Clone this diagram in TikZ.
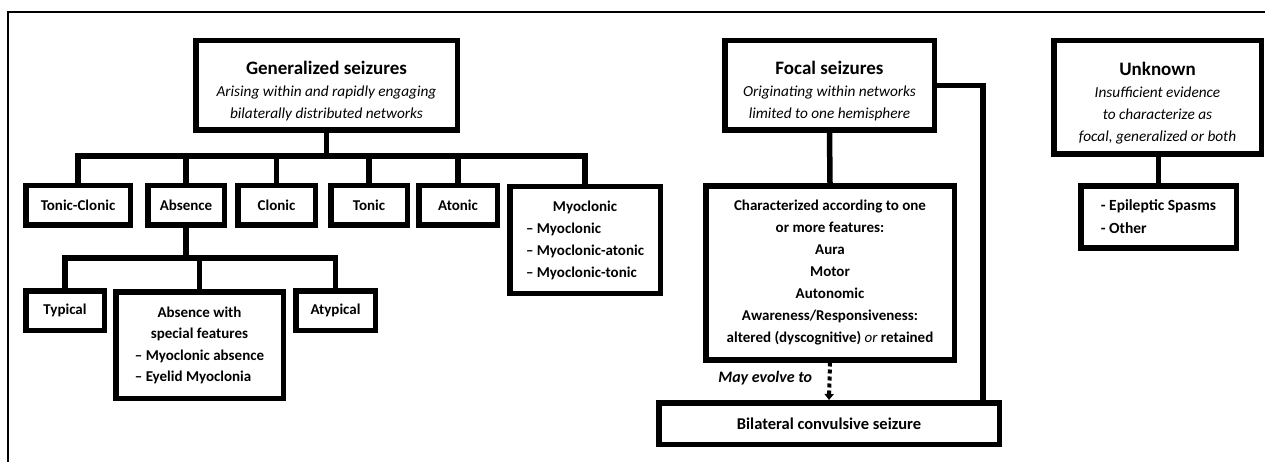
\documentclass[tikz,border=0pt]{standalone}
\usepackage{fontspec}
\setmainfont{Carlito}
\usetikzlibrary{arrows.meta}

\tikzset{
  box/.style={draw, line width=5.5pt, inner sep=0pt, align=center,
    font=\bfseries\fontsize{15}{22}\selectfont},
  conn/.style={line width=5.5pt},
  evolve/.style={line width=4pt, dash pattern=on 4pt off 3pt,
    -{Triangle[length=6pt,width=9pt]}},
  frameline/.style={line width=1.5pt},
  subt/.style={font=\bfseries\itshape\fontsize{16}{23}\selectfont},
}
% heading line; the strut lowers the whole text block a little
\newcommand{\headline}[1]{{\fontsize{19}{23}\selectfont\rule{0pt}{24pt}#1}}
\newcommand{\subline}[1]{{\mdseries\itshape\fontsize{15.3}{23}\selectfont #1}}
\newcommand{\unkline}[1]{{\mdseries\itshape\fontsize{15.3}{22}\selectfont #1}}

\begin{document}
\begin{tikzpicture}[x=1pt,y=-1pt]
\useasboundingbox (0,0) rectangle (1265,462);
\fill[white] (0,0) rectangle (1265,462);

% page frame
\draw[frameline] (8,462) -- (8,12) -- (1265,12);

% top-level categories
\node[box, minimum width=261.5pt, minimum height=89.5pt] (gen) at (326.5,85.5)
  {\headline{Generalized seizures}\\
   \subline{Arising within and rapidly engaging}\\
   \subline{bilaterally distributed networks}};
\node[box, minimum width=209.5pt, minimum height=89.5pt] (focal) at (829.5,85.5)
  {\headline{Focal seizures}\\
   \subline{Originating within networks}\\
   \subline{limited to one hemisphere}};
\node[box, minimum width=207.5pt, minimum height=113.5pt] (unk) at (1157.5,97.5)
  {\headline{Unknown}\\
   \unkline{Insufficient evidence}\\
   \unkline{to characterize as}\\
   \unkline{focal, generalized or both}};

% generalized seizure types
\node[box, minimum width=104.5pt, minimum height=39.5pt] (tc) at (78,205.5) {Tonic-Clonic};
\node[box, minimum width=76.5pt, minimum height=39.5pt] (abs) at (186,205.5) {Absence};
\node[box, minimum width=77.5pt, minimum height=39.5pt] (clon) at (276.5,205.5) {Clonic};
\node[box, minimum width=76.5pt, minimum height=39.5pt] (tonic) at (369,205.5) {Tonic};
\node[box, minimum width=78.5pt, minimum height=39.5pt] (atonic) at (458,205.5) {Atonic};
\node[box, minimum width=150.5pt, minimum height=106.5pt] (myo) at (585,240)
  {\begin{tabular}{@{}l@{}}
   \multicolumn{1}{@{}c@{}}{Myoclonic}\\
   – Myoclonic\\
   – Myoclonic-atonic\\
   – Myoclonic-tonic
   \end{tabular}};

% absence subtypes
\node[box, minimum width=78.5pt, minimum height=39.5pt] (typ) at (65,310.5) {Typical};
\node[box, minimum width=167.5pt, minimum height=106.5pt] (asf) at (199.5,345)
  {\fontsize{15}{21.5}\selectfont\begin{tabular}{@{}l@{}}
   \multicolumn{1}{@{}c@{}}{Absence with}\\
   \multicolumn{1}{@{}c@{}}{special features}\\
   – Myoclonic absence\\
   – Eyelid Myoclonia
   \end{tabular}};
\node[box, minimum width=79.5pt, minimum height=39.5pt] (atyp) at (335.5,310.5) {Atypical};

% focal features and evolution
\node[box, minimum width=248.5pt, minimum height=173.5pt] (char) at (830,273)
  {Characterized according to one\\
   or more features:\\
   Aura\\
   Motor\\
   Autonomic\\
   Awareness/Responsiveness:\\
   altered (dyscognitive) {\mdseries\itshape or} retained};
\node[box, minimum width=340.5pt, minimum height=41.5pt,
      font=\bfseries\fontsize{16.5}{22}\selectfont] (bil) at (829,423.5)
  {Bilateral convulsive seizure};

% unknown subtypes
\node[box, minimum width=155.5pt, minimum height=61.5pt] (epi) at (1158.5,217)
  {\fontsize{15.5}{23}\selectfont\begin{tabular}{@{}l@{}}
   - Epileptic Spasms\\
   - Other
   \end{tabular}};

% generalized tree
\coordinate (gbar) at (0,156);
\draw[conn] (gen.south) -- (gen.south |- gbar);
\draw[conn] (tc.north) |- (myo.north |- gbar) -- (myo.north);
\foreach \n in {abs,clon,tonic,atonic}
  \draw[conn] (\n.north) -- (\n.north |- gbar);

% absence tree
\coordinate (abar) at (0,258);
\draw[conn] (abs.south) -- (abs.south |- abar);
\draw[conn] (typ.north) |- (atyp.north |- abar) -- (atyp.north);
\draw[conn] (asf.north) -- (asf.north |- abar);

% focal branch
\draw[conn] (focal.south) -- (char.north);
\coordinate (fright) at (983,0);
\draw[conn] (focal.east) -| (bil.north -| fright);
\draw[evolve] (char.south) -- node[left=12pt, subt, yshift=3pt] {May evolve to} (bil.north);

% unknown branch
\draw[conn] (unk.south) -- (unk.south -| epi.north) -- (epi.north);
\end{tikzpicture}
\end{document}
